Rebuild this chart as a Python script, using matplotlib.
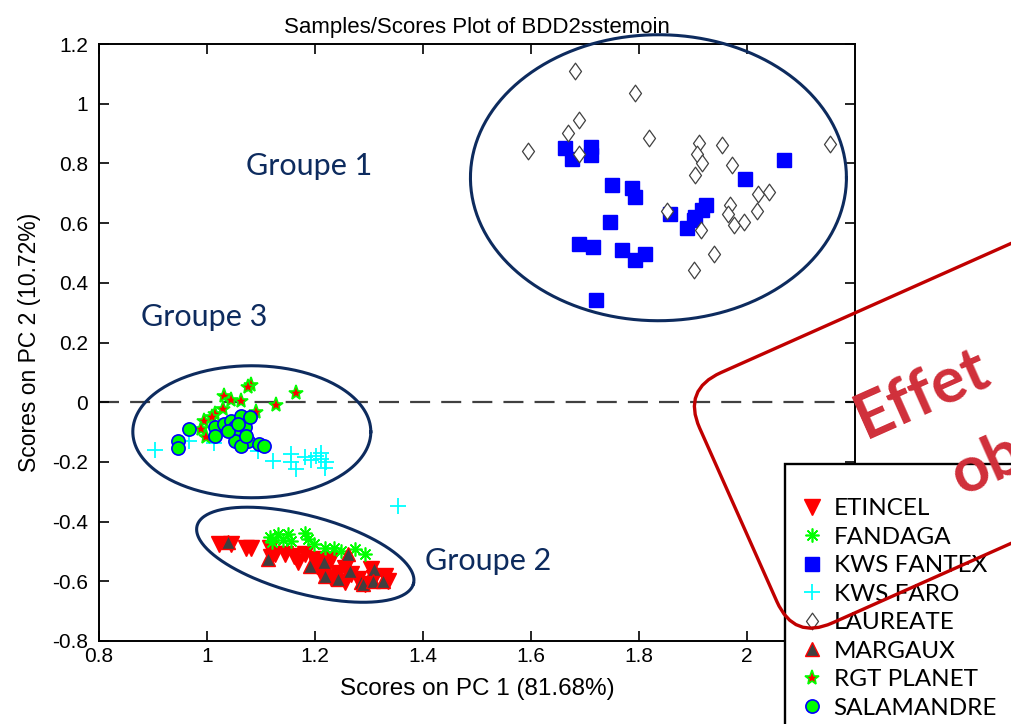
import numpy as np
import matplotlib
matplotlib.use("Agg")
import matplotlib.pyplot as plt
from matplotlib.path import Path
from matplotlib.patches import FancyBboxPatch, Rectangle
from matplotlib.transforms import Affine2D, IdentityTransform

# ---- data ----
etincel_x = [1.023, 1.045, 1.073, 1.082, 1.116, 1.119, 1.125, 1.144, 1.162, 1.168, 1.181,
             1.199, 1.203, 1.218, 1.230, 1.212, 1.230, 1.242, 1.255, 1.255, 1.267, 1.280,
             1.292, 1.304, 1.310, 1.329, 1.335]
etincel_y = [-0.476, -0.476, -0.487, -0.487, -0.487, -0.520, -0.509, -0.509, -0.515, -0.537, -0.509,
             -0.526, -0.550, -0.532, -0.526, -0.571, -0.588, -0.571, -0.554, -0.604, -0.576, -0.593,
             -0.610, -0.559, -0.588, -0.582, -0.599]

fandaga_x = [1.116, 1.120, 1.131, 1.140, 1.150, 1.156, 1.181, 1.187, 1.199, 1.218, 1.236,
             1.249, 1.274, 1.292]
fandaga_y = [-0.453, -0.470, -0.442, -0.460, -0.442, -0.464, -0.437, -0.459, -0.476, -0.487, -0.487,
             -0.498, -0.492, -0.509]

fantex_x = [1.663, 1.675, 1.712, 1.712, 1.750, 1.787, 1.793, 1.746, 1.688, 1.714, 1.769,
            1.793, 1.811, 1.721, 1.858, 1.904, 1.889, 1.924, 1.997, 2.068, 1.901, 1.917]
fantex_y = [0.850, 0.816, 0.855, 0.827, 0.727, 0.716, 0.688, 0.604, 0.529, 0.520, 0.509,
            0.475, 0.498, 0.343, 0.632, 0.620, 0.582, 0.662, 0.749, 0.813, 0.609, 0.643]

faro_x = [0.903, 0.967, 1.013, 1.094, 1.122, 1.156, 1.156, 1.165, 1.181, 1.193, 1.202,
          1.211, 1.212, 1.221, 1.218, 1.353]
faro_y = [-0.160, -0.129, -0.138, -0.162, -0.196, -0.174, -0.202, -0.224, -0.185, -0.194, -0.179,
          -0.171, -0.190, -0.202, -0.221, -0.347]

laureate_x = [1.681, 1.793, 1.688, 1.669, 1.595, 1.688, 1.818, 1.911, 1.907, 1.916, 1.904,
              1.953, 1.973, 2.154, 2.020, 2.041, 2.018, 1.969, 1.965, 1.976, 1.994, 1.852,
              1.915, 1.938, 1.902]
laureate_y = [1.110, 1.037, 0.947, 0.902, 0.842, 0.833, 0.884, 0.869, 0.833, 0.800, 0.760,
              0.861, 0.794, 0.864, 0.697, 0.704, 0.641, 0.660, 0.632, 0.593, 0.604, 0.641,
              0.576, 0.498, 0.444]

margaux_x = [1.038, 1.113, 1.190, 1.216, 1.218, 1.242, 1.261, 1.264, 1.286, 1.288, 1.310,
             1.307, 1.326]
margaux_y = [-0.470, -0.526, -0.548, -0.537, -0.582, -0.593, -0.509, -0.565, -0.604, -0.610, -0.559,
             -0.599, -0.599]

planet_x = [1.081, 1.075, 1.165, 1.127, 1.091, 1.032, 1.045, 1.063, 1.029, 1.014, 0.995,
            0.989, 0.999, 1.010]
planet_y = [0.059, 0.050, 0.031, -0.008, -0.034, 0.022, 0.008, 0.003, -0.023, -0.039, -0.062,
            -0.090, -0.118, -0.051]

salamandre_x = [0.946, 0.947, 0.967, 1.014, 1.014, 1.032, 1.045, 1.051, 1.057, 1.063, 1.070,
                1.076, 1.051, 1.063, 1.039, 1.057, 1.073, 1.079, 1.097, 1.106]
salamandre_y = [-0.129, -0.153, -0.090, -0.084, -0.112, -0.073, -0.062, -0.084, -0.106, -0.045, -0.084,
                -0.129, -0.129, -0.146, -0.095, -0.073, -0.112, -0.051, -0.140, -0.146]

varieties = ["ETINCEL", "FANDAGA", "KWS FANTEX", "KWS FARO", "LAUREATE",
             "MARGAUX", "RGT PLANET", "SALAMANDRE"]
groups = ["Groupe 1", "Groupe 2", "Groupe 3"]
x_ticks = [0.8, 1, 1.2, 1.4, 1.6, 1.8, 2]
y_ticks = [-0.8, -0.6, -0.4, -0.2, 0, 0.2, 0.4, 0.6, 0.8, 1, 1.2]

navy = "#0d2b5e"
matlab_font = "Liberation Sans"
office_font = "Lato"

# MATLAB style diamond (taller than wide)
diamond = Path([(0, 1), (0.72, 0), (0, -1), (-0.72, 0), (0, 1)],
               [Path.MOVETO, Path.LINETO, Path.LINETO, Path.LINETO, Path.CLOSEPOLY])

fig = plt.figure(figsize=(10.12, 7.24), dpi=100)
ax = fig.add_axes([99 / 1012, 1 - 641 / 724, 756 / 1012, 597 / 724])

ax.plot(etincel_x, etincel_y, ls="none", marker="v", ms=11, mfc="#ff0000", mec="#ff0000")
ax.plot(fandaga_x, fandaga_y, ls="none", marker=(8, 2, 0), ms=10, mec="#00ff00", mew=1.2)
ax.plot(fantex_x, fantex_y, ls="none", marker="s", ms=10.5, mfc="#0000ff", mec="#0000ff")
ax.plot(faro_x, faro_y, ls="none", marker="+", ms=11, mec="#00ffff", mew=1.3)
ax.plot(laureate_x, laureate_y, ls="none", marker=diamond, ms=12, mfc="white", mec="#404040", mew=0.9)
ax.plot(margaux_x, margaux_y, ls="none", marker="^", ms=10, mfc="#404040", mec="#ff0000", mew=1)
ax.plot(planet_x, planet_y, ls="none", marker="*", ms=11, mfc="#ff0000", mec="#00ff00", mew=1.2)
ax.plot(salamandre_x, salamandre_y, ls="none", marker="o", ms=9.5, mfc="#00ff00", mec="#0000ff", mew=1.2)

ax.axhline(0, color="#404040", lw=1.6, ls=(0, (9, 5)), zorder=1)

ax.set_xlim(0.8, 2.2)
ax.set_ylim(-0.8, 1.2)
ax.set_xticks(x_ticks)
ax.set_xticklabels(["0.8", "1", "1.2", "1.4", "1.6", "1.8", "2"])
ax.set_yticks(y_ticks)
ax.set_yticklabels(["-0.8", "-0.6", "-0.4", "-0.2", "0", "0.2", "0.4", "0.6", "0.8", "1", "1.2"])
ax.tick_params(direction="in", length=7, width=1.2, top=True, right=True,
               labelsize=15, colors="black")
ax.tick_params(axis="y", pad=8)
ax.tick_params(axis="x", pad=4)
for lab in ax.get_xticklabels() + ax.get_yticklabels():
    lab.set_fontfamily(matlab_font)
for sp in ax.spines.values():
    sp.set_linewidth(1.4)
ax.set_title("Samples/Scores Plot of BDD2sstemoin", family=matlab_font, fontsize=16, pad=8)
ax.set_xlabel("Scores on PC 1 (81.68%)", family=matlab_font, fontsize=17.5, labelpad=9)
ax.set_ylabel("Scores on PC 2 (10.72%)", family=matlab_font, fontsize=16.5, labelpad=8)


def ellipse(cx, cy, a_px, b_px, angle):
    # ellipse drawn with pixel semi-axes around a data centre
    t = np.linspace(0, 2 * np.pi, 300)
    c = ax.transData.transform((cx, cy))
    th = np.deg2rad(angle)
    px = c[0] + a_px * np.cos(t) * np.cos(th) - b_px * np.sin(t) * np.sin(th)
    py = c[1] + a_px * np.cos(t) * np.sin(th) + b_px * np.sin(t) * np.cos(th)
    d = ax.transData.inverted().transform(np.column_stack([px, py]))
    ax.plot(d[:, 0], d[:, 1], color=navy, lw=2.2, clip_on=False, zorder=5)


ellipse(1.836, 0.752, 188, 143, 0)
ellipse(1.083, -0.099, 119, 66, 0)
ellipse(1.182, -0.511, 112, 39, -15)

ax.text(1.072, 0.79, groups[0], family=office_font, fontsize=22, color=navy, va="center")
ax.text(0.878, 0.287, groups[2], family=office_font, fontsize=22, color=navy, va="center")
ax.text(1.403, -0.532, groups[1], family=office_font, fontsize=22, color=navy, va="center")

# legend: frame runs off the picture, so draw it by hand
frame = Rectangle((785, -30), 320, 724 - 464 + 30, transform=IdentityTransform(),
                  facecolor="white", edgecolor="black", lw=1.7, zorder=4)
fig.add_artist(frame)
leg = fig.legend(ax.lines[:8], varieties, loc="upper left",
                 bbox_to_anchor=(802 / 1012, 1 - 498 / 724),
                 prop={"family": office_font, "size": 17.5}, frameon=False,
                 borderpad=0, handlelength=0.85, handletextpad=0.45,
                 labelspacing=0.31, borderaxespad=0)
leg.set_zorder(6)

# red rounded callout, rotated, in pixels
box = FancyBboxPatch((0, 0), 700, 274, boxstyle="round,pad=0,rounding_size=42",
                     transform=Affine2D().rotate_deg(24).translate(794, 84),
                     fill=False, edgecolor="#c00000", lw=2.4, zorder=20)
fig.add_artist(box)
fig.text(866 / 1012, 1 - 440 / 724, "Effet", family=office_font, fontsize=46, weight="bold",
         color="#d02f3a", rotation=24, rotation_mode="anchor", ha="left", va="baseline", zorder=21)
fig.text(962 / 1012, 1 - 496 / 724, "observé", family=office_font, fontsize=46, weight="bold",
         color="#d02f3a", rotation=24, rotation_mode="anchor", ha="left", va="baseline", zorder=21)

fig.savefig("out.png", dpi=100)
